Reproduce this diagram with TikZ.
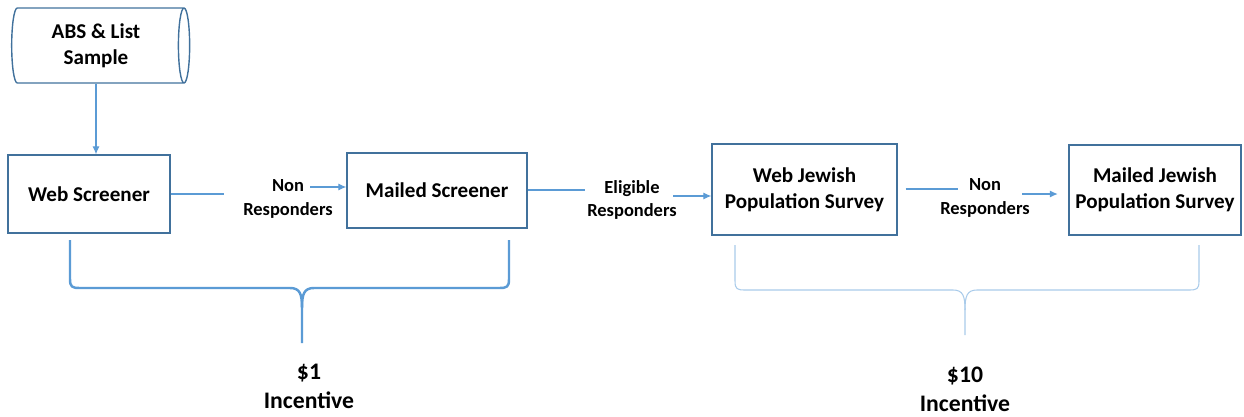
\documentclass[tikz,border=0pt]{standalone}
\usepackage{fontspec}
\setmainfont{Carlito}
\usepackage{tikz}
\usetikzlibrary{arrows.meta}
\usetikzlibrary{shapes.geometric}
\definecolor{boxblue}{HTML}{41719C}
\definecolor{linkblue}{HTML}{5B9BD5}
\definecolor{paleblue}{HTML}{A9CBEA}
\tikzstyle{stage} = [draw=boxblue, line width=0.8pt, align=center,
    font=\bfseries\fontsize{12}{15}\selectfont]
\tikzstyle{flowtext} = [align=center, inner sep=1pt,
    font=\bfseries\fontsize{10.5}{13.5}\selectfont]
\tikzstyle{link} = [draw=linkblue, line width=0.6pt]
\tikzstyle{bigtext} = [align=center, inner sep=1pt,
    font=\bfseries\fontsize{13.5}{16.5}\selectfont]
\tikzset{>={Latex[length=4.5pt,width=4pt]}}

\begin{document}
\begin{tikzpicture}[x=0.02cm,y=-0.02cm]
\useasboundingbox (0,0) rectangle (1244,416);
    %source
    \node[stage, shape=cylinder, shape aspect=0.2, minimum height=3.56cm,
        minimum width=1.5cm] (sample) at (96,45.5) {ABS \& List\\Sample};
    %boxes
    \node[stage, minimum width=3.24cm, minimum height=1.56cm] (web) at (89,194) {Web Screener};
    \node[stage, minimum width=3.6cm, minimum height=1.5cm] (mail) at (437,190.5) {Mailed Screener};
    \node[stage, minimum width=3.7cm, minimum height=1.82cm] (wjps) at (804.5,189.5) {Web Jewish\\Population Survey};
    \node[stage, minimum width=3.44cm, minimum height=1.8cm] (mjps) at (1155,190) {Mailed Jewish\\Population Survey};
    %labels
    \node[flowtext] (non1) at (288,199) {Non\\Responders};
    \node[flowtext] (elig) at (632,200) {Eligible\\Responders};
    \node[flowtext] (non2) at (985,198) {Non\\Responders};
    \node[bigtext] (inc1) at (309,386) {\$1\\Incentive};
    \node[bigtext] (inc2) at (965,389) {\$10\\Incentive};
    %connectors
    \coordinate (a1) at (224,194);
    \coordinate (a2) at (310,187);
    \coordinate (b1) at (585,190);
    \coordinate (b2) at (673,196);
    \coordinate (c1) at (958,189);
    \coordinate (c2) at (1022,194);
    \draw[link, ->] (sample.south) -- (sample.south |- web.north);
    \draw[link] (web.east |- a1) -- (a1);
    \draw[link, ->] (a2) -- (mail.west |- a2);
    \draw[link] (mail.east |- b1) -- (b1);
    \draw[link, ->] (b2) -- (wjps.west |- b2);
    \draw[link, shorten <=4.5pt] (wjps.east |- c1) -- (c1);
    \draw[link, ->, shorten >=6pt] (c2) -- (mjps.west |- c2);
    %braces
    \draw[linkblue, line width=1.4pt, line join=round]
        (70,240) -- (70,279) .. controls (70,287) and (72,288) .. (80,288)
        -- (290,288) .. controls (300,288) and (302,294) .. (302,308) -- (302,343);
    \draw[linkblue, line width=1.4pt, line join=round]
        (509,240) -- (509,279) .. controls (509,287) and (507,288) .. (499,288)
        -- (314,288) .. controls (304,288) and (302,294) .. (302,308);
    \draw[paleblue, line width=0.6pt, line join=round]
        (735,245) -- (735,281) .. controls (735,289) and (737,290) .. (745,290)
        -- (953,290) .. controls (963,290) and (965,296) .. (965,310) -- (965,335);
    \draw[paleblue, line width=0.6pt, line join=round]
        (1199,245) -- (1199,281) .. controls (1199,289) and (1197,290) .. (1189,290)
        -- (977,290) .. controls (967,290) and (965,296) .. (965,310);
\end{tikzpicture}
\end{document}
